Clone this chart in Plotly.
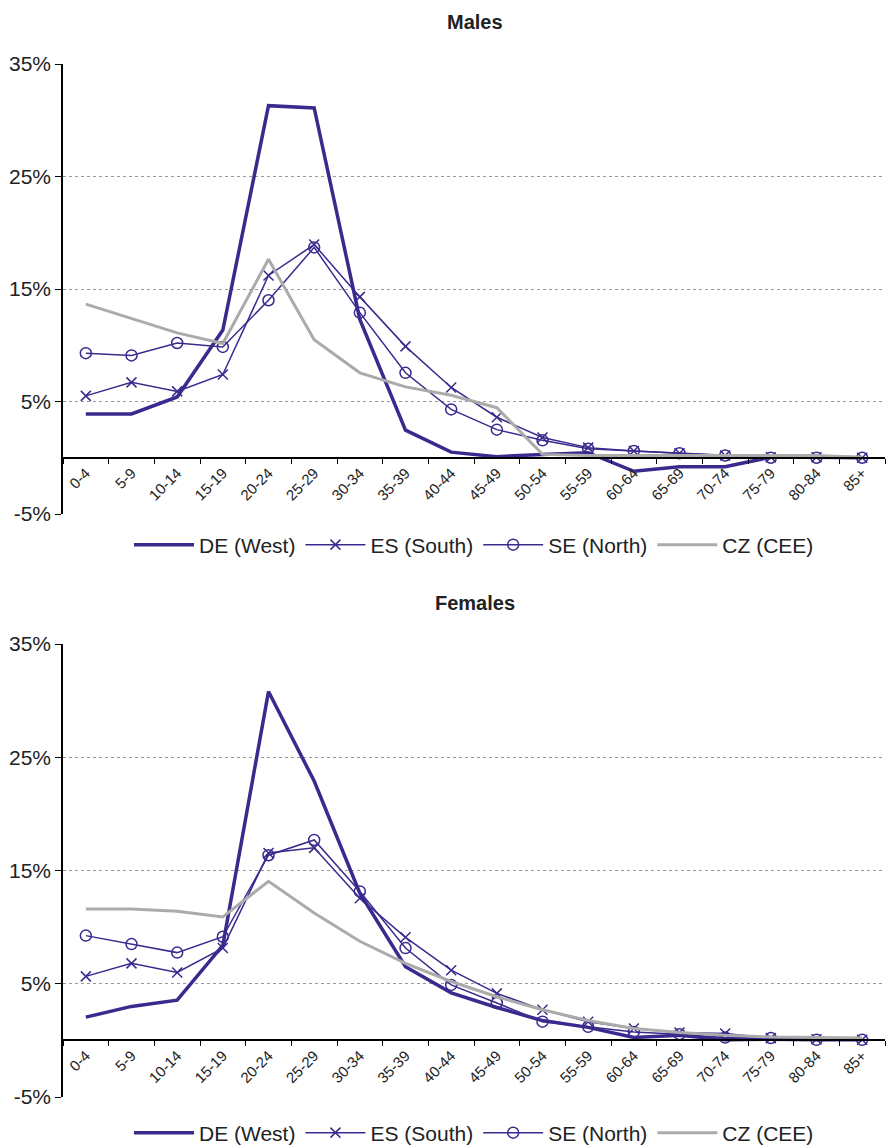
import plotly.graph_objects as go

ages = ["0-4", "5-9", "10-14", "15-19", "20-24", "25-29", "30-34", "35-39", "40-44",
        "45-49", "50-54", "55-59", "60-64", "65-69", "70-74", "75-79", "80-84", "85+"]

males_de = [3.9, 3.9, 5.4, 11.35, 31.3, 31.1, 12.3, 2.45, 0.5, 0.1, 0.3, 0.45, -1.2, -0.8, -0.8, 0.05, 0.05, 0.0]
males_es = [5.5, 6.7, 5.9, 7.4, 16.2, 18.95, 14.3, 9.9, 6.25, 3.6, 1.8, 0.9, 0.6, 0.4, 0.2, 0.05, 0.05, 0.0]
males_se = [9.3, 9.1, 10.2, 9.85, 14.0, 18.7, 12.9, 7.55, 4.3, 2.5, 1.55, 0.8, 0.6, 0.4, 0.2, 0.0, 0.0, 0.0]
males_cz = [13.65, 12.4, 11.1, 10.15, 17.65, 10.5, 7.55, 6.3, 5.55, 4.45, 0.3, 0.2, 0.2, 0.2, 0.2, 0.2, 0.2, 0.05]

females_de = [2.05, 3.0, 3.55, 8.4, 30.8, 22.9, 13.0, 6.5, 4.2, 2.9, 1.75, 1.15, 0.25, 0.45, 0.05, 0.1, 0.05, 0.05]
females_es = [5.65, 6.8, 6.0, 8.15, 16.55, 17.0, 12.55, 9.1, 6.2, 4.15, 2.7, 1.65, 1.05, 0.7, 0.6, 0.2, 0.1, 0.05]
females_se = [9.25, 8.5, 7.75, 9.15, 16.35, 17.7, 13.15, 8.15, 4.9, 3.3, 1.65, 1.2, 0.75, 0.55, 0.25, 0.2, 0.05, 0.05]
females_cz = [11.6, 11.6, 11.4, 10.9, 14.05, 11.25, 8.75, 6.8, 5.2, 3.85, 2.7, 1.75, 1.05, 0.7, 0.45, 0.3, 0.25, 0.2]

series_names = ["DE (West)", "ES (South)", "SE (North)", "CZ (CEE)"]
ytick_vals = [-5, 5, 15, 25, 35]
ytick_text = ["-5%", "5%", "15%", "25%", "35%"]

BLUE = "#3A2A8E"
GRAY = "#ABABAB"
FONT = "Liberation Sans, Arial, sans-serif"

H = 1147
def py(p):
    return 1 - p / H

fig = go.Figure()

def add_panel(vals, xa, ya, leg):
    de, es, se, cz = vals
    fig.add_trace(go.Scatter(x=ages, y=de, name=series_names[0], mode="lines",
                             line=dict(color=BLUE, width=3.5), xaxis=xa, yaxis=ya, legend=leg))
    fig.add_trace(go.Scatter(x=ages, y=es, name=series_names[1], mode="lines+markers",
                             line=dict(color=BLUE, width=1.5),
                             marker=dict(symbol="x-thin-open", size=10, color=BLUE,
                                         line=dict(color=BLUE, width=1.5)),
                             xaxis=xa, yaxis=ya, legend=leg))
    fig.add_trace(go.Scatter(x=ages, y=se, name=series_names[2], mode="lines+markers",
                             line=dict(color=BLUE, width=1.5),
                             marker=dict(symbol="circle-open", size=11, color=BLUE,
                                         line=dict(color=BLUE, width=1.5)),
                             xaxis=xa, yaxis=ya, legend=leg))
    fig.add_trace(go.Scatter(x=ages, y=cz, name=series_names[3], mode="lines",
                             line=dict(color=GRAY, width=3), xaxis=xa, yaxis=ya, legend=leg))

add_panel([males_de, males_es, males_se, males_cz], "x", "y", "legend")
add_panel([females_de, females_es, females_se, females_cz], "x2", "y2", "legend2")

# y pixel positions
m_top, m_bot = 64, 514
f_top, f_bot = 644, 1097
m_zero = m_bot - (m_bot - m_top) * 5 / 40
f_zero = f_bot - (f_bot - f_top) * 5 / 40

xcommon = dict(type="category", showgrid=False, showline=True, linecolor="black", linewidth=1.5,
               ticks="outside", tickson="boundaries", ticklen=5, tickcolor="black",
               tickangle=-45, tickfont=dict(family=FONT, size=15, color="#222"),
               range=[-0.5, 17.5], domain=[0, 1], anchor="free", zeroline=False)
ycommon = dict(range=[-5, 35], tickvals=ytick_vals, ticktext=ytick_text,
               showline=True, linecolor="black", linewidth=1.5, ticks="outside", ticklen=6,
               tickcolor="black", showgrid=True, gridcolor="#999999", griddash="dot", gridwidth=1,
               zeroline=False, tickfont=dict(family=FONT, size=21, color="#222"))

legcommon = dict(orientation="h", x=0.5, xanchor="center", yanchor="middle",
                 font=dict(family=FONT, size=21, color="#222"), itemwidth=60,
                 bgcolor="rgba(0,0,0,0)")

title_x = (475 - 63) / 822

fig.update_layout(
    width=889, height=H,
    margin=dict(l=63, r=4, t=0, b=0, autoexpand=False),
    paper_bgcolor="white", plot_bgcolor="white",
    font=dict(family=FONT, color="#222"),
    xaxis=dict(**xcommon, position=py(m_zero)),
    yaxis=dict(**ycommon, domain=[py(m_bot), py(m_top)], anchor="x"),
    xaxis2=dict(**xcommon, position=py(f_zero)),
    yaxis2=dict(**ycommon, domain=[py(f_bot), py(f_top)], anchor="x2"),
    legend=dict(**legcommon, y=py(545)),
    legend2=dict(**legcommon, y=py(1133)),
    showlegend=True,
    annotations=[
        dict(text="<b>Males</b>", xref="paper", yref="paper", x=title_x,
             y=py(22), xanchor="center", yanchor="middle", showarrow=False,
             font=dict(family=FONT, size=20, color="#222")),
        dict(text="<b>Females</b>", xref="paper", yref="paper", x=title_x, y=py(603),
             xanchor="center", yanchor="middle", showarrow=False,
             font=dict(family=FONT, size=20, color="#222")),
    ],
)

fig.write_html("out.html")
